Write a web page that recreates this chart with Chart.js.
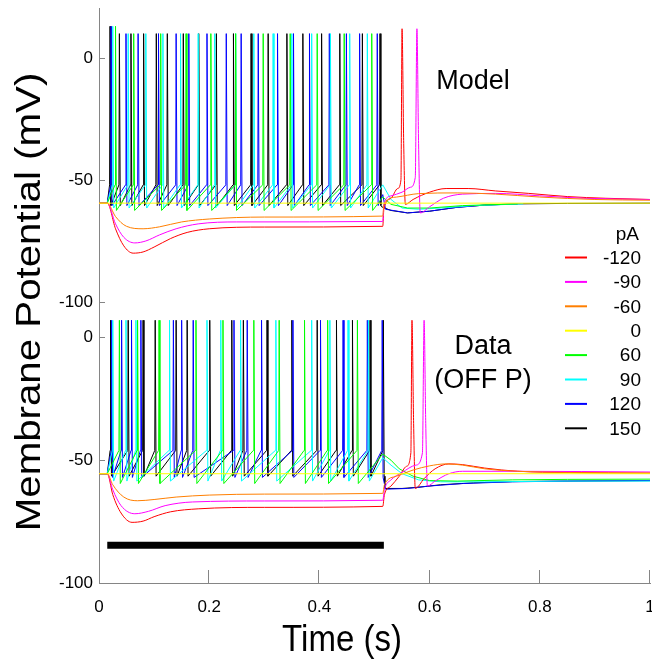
<!DOCTYPE html>
<html>
<head>
<meta charset="utf-8">
<script src="https://cdn.jsdelivr.net/npm/chart.js@4.4.1/dist/chart.umd.min.js"></script>
<style>
    html, body { margin: 0; padding: 0; background: #fff; }
    #wrap { width: 652px; height: 664px; position: relative; }
</style>
</head>
<body>
<div id="wrap"><canvas id="traces"></canvas></div>
<script>
// --- Legend / axes ---
const currents = ['-120', '-90', '-60', '0', '60', '90', '120', '150'];
const traceColors = ['#ff0000', '#ff00ff', '#ff7f00', '#ffff00', '#00ff00', '#00ffff', '#0000ff', '#000000'];
const xTicks = [0, 0.2, 0.4, 0.6, 0.8, 1];
const yTicks = [0, -50, -100];
const stimBar = [[0.015, -84.6], [0.517, -84.6]];

// --- Model panel (mV) ---
const modelLevels = { rest: -59.5, thr: -52, peak: 10, firstPeak: 13 };
const modelSpikes60 = [0.030, 0.063, 0.112, 0.158, 0.203, 0.248, 0.298, 0.347, 0.396, 0.445, 0.495];
const modelSpikes90 = [0.025, 0.053, 0.085, 0.116, 0.148, 0.180, 0.210, 0.248, 0.281, 0.316, 0.350, 0.386, 0.420, 0.455, 0.487];
const modelSpikes120 = [0.022, 0.049, 0.071, 0.108, 0.140, 0.163, 0.196, 0.231, 0.258, 0.289, 0.324, 0.353, 0.382, 0.418, 0.449, 0.473, 0.505];
const modelSpikes150 = [0.020, 0.037, 0.058, 0.081, 0.104, 0.124, 0.153, 0.181, 0.213, 0.244, 0.276, 0.307, 0.341, 0.370, 0.404, 0.437, 0.478, 0.510];
const modelTroughs = { g60: -62.5, g90: -61.5, g120: -60.5, g150: -60.5 };
const modelTail60 = [[0.515, -57], [0.53, -60], [0.56, -61.5], [0.60, -61.5], [0.66, -60.5], [0.76, -59.8]];
const modelTail90 = [[0.515, -52], [0.53, -58], [0.55, -61.5], [0.58, -62], [0.62, -61.5], [0.68, -60.5], [0.77, -59.8]];
const modelTail120 = [[0.515, -56], [0.52, -62], [0.56, -63.5], [0.60, -62.8], [0.65, -61.2], [0.70, -60.3], [0.76, -59.8]];
const modelTail150 = [[0.513, -61], [0.53, -62.5], [0.56, -63.5], [0.60, -62.8], [0.65, -61.2], [0.70, -60.3], [0.76, -59.8], [0.85, -59.6], [1.0, -59.5]];
const modelNeg120 = [[0, -59.5], [0.015, -59.5], [0.03, -70], [0.045, -77], [0.062, -80], [0.08, -79.5], [0.10, -77.5], [0.13, -74], [0.16, -71.5], [0.20, -70], [0.30, -69.3], [0.515, -69],
    [0.517, -62], [0.53, -57.5], [0.542, -53.5], [0.548, -50], [0.550, 12], [0.553, -35], [0.556, -60], [0.57, -58], [0.60, -55], [0.63, -53.5], [0.67, -53.5], [0.72, -54.5], [0.78, -55.5], [0.85, -56.8], [0.92, -57.5], [1.0, -58]];
const modelNeg90 = [[0, -59.5], [0.015, -59.5], [0.03, -68], [0.045, -73.5], [0.065, -75.8], [0.085, -75], [0.11, -72.5], [0.14, -70], [0.18, -68], [0.25, -67.2], [0.515, -67],
    [0.517, -60], [0.53, -56.5], [0.55, -55], [0.565, -53], [0.574, -49], [0.577, 12], [0.580, -35], [0.583, -63.5], [0.60, -61], [0.625, -57.5], [0.66, -55.8], [0.72, -55.5], [0.80, -56.5], [0.88, -57.5], [1.0, -58]];
const modelNeg60 = [[0, -59.5], [0.015, -59.5], [0.03, -65], [0.05, -69], [0.08, -70], [0.11, -69.2], [0.15, -67.2], [0.20, -66], [0.30, -65.2], [0.515, -64.8],
    [0.517, -60], [0.54, -57], [0.58, -55.6], [0.65, -55.3], [0.72, -55.8], [0.80, -57], [0.90, -58], [1.0, -58.3]];
const modelZero = [[0, -59.5], [0.515, -59.5], [1.0, -59.5]];

// --- Data (OFF P) panel (mV) ---
const dataLevels = { rest: -55.5, thr: -46, peak: 7, firstPeak: 7 };
const dataSpikes60 = [0.037, 0.070, 0.109, 0.176, 0.225, 0.281, 0.327, 0.373, 0.415, 0.469];
const dataSpikes90 = [0.025, 0.049, 0.067, 0.128, 0.196, 0.221, 0.257, 0.321, 0.386, 0.419, 0.452, 0.489];
const dataSpikes120 = [0.023, 0.041, 0.059, 0.076, 0.135, 0.150, 0.171, 0.245, 0.269, 0.295, 0.352, 0.402, 0.443, 0.487, 0.514];
const dataSpikes150 = [0.021, 0.053, 0.080, 0.102, 0.140, 0.160, 0.201, 0.241, 0.262, 0.305, 0.350, 0.396, 0.431, 0.460, 0.492, 0.516];
const dataTroughs = { g60: -59.5, g90: -58.5, g120: -57, g150: -56.5 };
const dataTail60 = [[0.515, -47.5], [0.53, -50], [0.545, -53.5], [0.57, -56.5], [0.60, -58.3], [0.65, -58.5], [0.75, -58], [0.85, -57.8], [1.0, -57.7]];
const dataTail90 = [[0.515, -49], [0.53, -52], [0.55, -55.5], [0.58, -58], [0.62, -58.8], [0.70, -58.8], [0.85, -58.5], [1.0, -58.5]];
const dataTail120 = [[0.52, -61.8], [0.56, -61.5], [0.60, -60.5], [0.66, -59.5], [0.75, -58.8], [0.85, -58.5], [1.0, -58.3]];
const dataTail150 = [[0.519, -61.5], [0.55, -61.5], [0.58, -61], [0.62, -60], [0.68, -59.2], [0.75, -58.7], [0.85, -58.5], [1.0, -58.3]];
const dataNeg120 = [[0, -55.5], [0.015, -55.5], [0.025, -64], [0.04, -71.5], [0.06, -75.3], [0.08, -74.8], [0.10, -73], [0.13, -71], [0.18, -69.8], [0.30, -69.2], [0.515, -68.8],
    [0.518, -64], [0.53, -60.5], [0.545, -56.5], [0.558, -52.5], [0.566, -47], [0.568, 7], [0.571, -35], [0.574, -61.5], [0.59, -57.5], [0.61, -53.5], [0.635, -51.5], [0.66, -51.8], [0.70, -53.2], [0.76, -54.5], [0.85, -55], [1.0, -55.3]];
const dataNeg90 = [[0, -55.5], [0.015, -55.5], [0.025, -62], [0.04, -68.5], [0.065, -71.8], [0.09, -70.8], [0.12, -68.5], [0.17, -67], [0.30, -66.6], [0.515, -66.3],
    [0.518, -62], [0.53, -58], [0.55, -55], [0.575, -52], [0.587, -47], [0.590, 7], [0.593, -35], [0.596, -60.5], [0.61, -58.5], [0.635, -55.5], [0.66, -54.5], [0.75, -54.5], [1.0, -54.8]];
const dataNeg60 = [[0, -55.5], [0.015, -55.5], [0.025, -60], [0.045, -65], [0.07, -66.5], [0.10, -66], [0.14, -65], [0.20, -64.2], [0.30, -63.8], [0.515, -63.5],
    [0.518, -60], [0.54, -56.5], [0.57, -54], [0.60, -52.3], [0.63, -51.5], [0.66, -52], [0.70, -53.5], [0.76, -54.5], [0.85, -55], [1.0, -55.2]];
const dataZero = [[0, -55.5], [0.515, -55.5], [1.0, -55.5]];

const axisColor = '#858585';
const fontFamily = "'Liberation Sans', Arial, Helvetica, sans-serif";

// Build a spiking trace from the spike times
function spikeTrace(lv, spikes, trough, tail) {
    const pts = [{ x: 0, y: lv.rest }, { x: 0.015, y: lv.rest }];
    spikes.forEach((t, i) => {
        pts.push({ x: t - 0.0008, y: lv.thr });
        pts.push({ x: t, y: i === 0 ? lv.firstPeak : lv.peak });
        pts.push({ x: t + 0.0016, y: trough });
    });
    tail.forEach(([x, y]) => pts.push({ x, y }));
    return pts;
}
const toPts = arr => arr.map(([x, y]) => ({ x, y }));

function panelSets(axisId, neg120, neg90, neg60, zero, lv, sp, tr, tails) {
    const smooth = [neg120, neg90, neg60, zero].map((d, i) => ({
        label: currents[i], data: toPts(d), yAxisID: axisId,
        borderColor: traceColors[i], cubicInterpolationMode: 'monotone'
    }));
    const spiking = [0, 1, 2, 3].map(i => ({
        label: currents[4 + i], data: spikeTrace(lv, sp[i], tr[i], tails[i]), yAxisID: axisId,
        borderColor: traceColors[4 + i], tension: 0
    }));
    // hyperpolarised traces drawn first, spiking on top (black last)
    return [smooth[3], smooth[2], smooth[1], smooth[0], ...spiking];
}

const datasets = [
    ...panelSets('yTop', modelNeg120, modelNeg90, modelNeg60, modelZero, modelLevels,
        [modelSpikes60, modelSpikes90, modelSpikes120, modelSpikes150],
        [modelTroughs.g60, modelTroughs.g90, modelTroughs.g120, modelTroughs.g150],
        [modelTail60, modelTail90, modelTail120, modelTail150]),
    ...panelSets('yBot', dataNeg120, dataNeg90, dataNeg60, dataZero, dataLevels,
        [dataSpikes60, dataSpikes90, dataSpikes120, dataSpikes150],
        [dataTroughs.g60, dataTroughs.g90, dataTroughs.g120, dataTroughs.g150],
        [dataTail60, dataTail90, dataTail120, dataTail150]),
    { label: 'stim', data: toPts(stimBar), yAxisID: 'yBot', borderColor: '#000', borderWidth: 7, borderCapStyle: 'butt' }
];

// --- Inward tick marks ---
const inwardTicks = {
    id: 'inwardTicks',
    afterDraw(chart) {
        const { ctx, chartArea, scales } = chart;
        ctx.save();
        ctx.strokeStyle = axisColor;
        ctx.lineWidth = 1;
        ['yTop', 'yBot'].forEach(id => {
            yTicks.forEach(v => {
                const y = Math.round(scales[id].getPixelForValue(v)) + 0.5;
                ctx.beginPath();
                ctx.moveTo(chartArea.left, y);
                ctx.lineTo(chartArea.left + 6, y);
                ctx.stroke();
            });
        });
        xTicks.slice(1).forEach(v => {
            const x = Math.round(scales.x.getPixelForValue(v)) - 0.5;
            ctx.beginPath();
            ctx.moveTo(x, chartArea.bottom);
            ctx.lineTo(x, chartArea.bottom - 13);
            ctx.stroke();
        });
        ctx.restore();
    }
};

// --- Titles, panel labels and legend ---
const labels = {
    id: 'labels',
    afterDraw(chart) {
        const { ctx } = chart;
        ctx.save();
        ctx.fillStyle = '#000';
        ctx.textBaseline = 'middle';

        // axis titles (slightly taller than wide, like the figure)
        ctx.font = '33px ' + fontFamily;
        ctx.textAlign = 'center';
        ctx.save();
        ctx.translate(342, 641);
        ctx.scale(1, 1.12);
        ctx.fillText('Time (s)', 0, 0);
        ctx.restore();

        ctx.font = '35px ' + fontFamily;
        ctx.save();
        ctx.translate(30, 302);
        ctx.scale(1, 1.15);
        ctx.rotate(-Math.PI / 2);
        ctx.fillText('Membrane Potential (mV)', 0, 0);
        ctx.restore();

        // panel labels
        ctx.font = '27px ' + fontFamily;
        ctx.fillText('Model', 473, 82);
        ctx.fillText('Data', 483, 347);
        ctx.fillText('(OFF P)', 483, 381);

        // legend
        ctx.font = '19px ' + fontFamily;
        ctx.textAlign = 'right';
        ctx.fillText('pA', 639, 235);
        currents.forEach((c, i) => {
            const y = 257.5 + i * 24.4;
            ctx.strokeStyle = traceColors[i];
            ctx.lineWidth = 2;
            ctx.beginPath();
            ctx.moveTo(565, y);
            ctx.lineTo(587, y);
            ctx.stroke();
            ctx.fillText(c, 641, y + 1);
        });
        ctx.restore();
    }
};

const yAxisBase = {
    type: 'linear',
    position: 'left',
    stack: 'mv',
    grid: { display: false, drawTicks: false },
    border: { color: axisColor, width: 1 },
    ticks: { color: '#000', padding: 6, font: { size: 17, family: fontFamily }, callback: v => String(v) },
    afterBuildTicks: s => { s.ticks = yTicks.map(v => ({ value: v })); },
    afterFit: s => { s.width = 99; s.paddingTop = 0; s.paddingBottom = 0; }
};

new Chart(document.getElementById('traces'), {
    type: 'line',
    data: { datasets: datasets },
    plugins: [inwardTicks, labels],
    options: {
        responsive: true,
        maintainAspectRatio: false,
        animation: false,
        parsing: false,
        layout: { padding: { top: 8, right: 2, left: 0, bottom: 0 } },
        elements: { point: { radius: 0 }, line: { borderWidth: 1 } },
        datasets: { line: { clip: false } },
        plugins: { legend: { display: false }, tooltip: { enabled: false } },
        scales: {
            x: {
                type: 'linear', min: 0, max: 1, position: 'bottom',
                grid: { display: false, drawTicks: false },
                border: { color: axisColor, width: 1 },
                ticks: { color: '#000', padding: 14, maxRotation: 0, autoSkip: false, font: { size: 17, family: fontFamily },
                    callback: v => String(Math.round(v * 10) / 10) },
                afterBuildTicks: s => { s.ticks = xTicks.map(v => ({ value: v })); },
                afterFit: s => { s.height = 81; s.paddingLeft = 0; s.paddingRight = 0; }
            },
            yTop: { ...yAxisBase, min: -107.4, max: 20.5, stackWeight: 312, weight: 1 },
            yBot: { ...yAxisBase, min: -100, max: 7.1, stackWeight: 263, weight: 0 }
        }
    }
});
</script>
</body>
</html>
